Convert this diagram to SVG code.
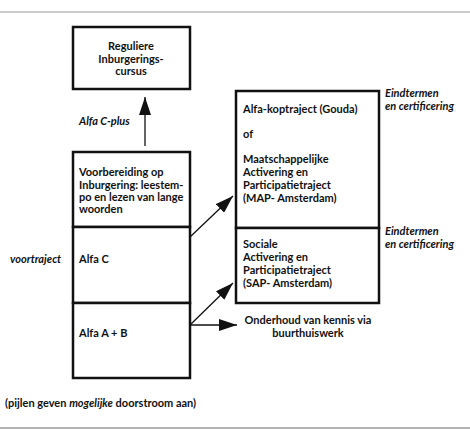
<svg xmlns="http://www.w3.org/2000/svg" width="470" height="439" viewBox="0 0 470 439">
<defs>
<style>
.box{fill:#fff;stroke:#111;stroke-width:2.5}
.t{font-family:Lato,"Open Sans",sans-serif;font-weight:700;font-size:11px;fill:#111}
.i{font-style:italic}
.c{text-anchor:middle}
.ln{stroke:#111;stroke-width:1.3;fill:none}
</style>
<marker id="ahL" viewBox="0 0 10 10" refX="10" refY="5" markerWidth="18" markerHeight="12" markerUnits="userSpaceOnUse" orient="auto" preserveAspectRatio="none">
<path d="M0,0 L10,5 L0,10 z" fill="#111"/>
</marker>
</defs>
<rect width="470" height="439" fill="#fff"/>
<line x1="0" y1="12" x2="470" y2="12" stroke="#999" stroke-width="1"/>
<line x1="0" y1="428" x2="470" y2="428" stroke="#666" stroke-width="1"/>

<g id="regulier">
<rect class="box" x="73" y="27" width="117" height="62"/>
<text class="t c" x="131" y="50">Reguliere</text>
<text class="t c" x="131" y="63">Inburgerings-</text>
<text class="t c" x="131" y="75">cursus</text>
</g>

<g id="voorbereiding">
<rect class="box" x="73" y="152" width="117" height="75"/>
<text class="t" x="79" y="176">Voorbereiding op</text>
<text class="t" x="79" y="189">Inburgering: leestem-</text>
<text class="t" x="79" y="201">po en lezen van lange</text>
<text class="t" x="79" y="213">woorden</text>
</g>
<g id="alfaC">
<rect class="box" x="73" y="227" width="117" height="76"/>
<text class="t" x="79" y="263">Alfa C</text>
</g>
<g id="alfaAB">
<rect class="box" x="73" y="303" width="117" height="75"/>
<text class="t" x="79" y="337">Alfa A + B</text>
</g>

<g id="koptraject">
<rect class="box" x="236" y="91" width="143" height="137"/>
<text class="t" x="243" y="113">Alfa-koptraject (Gouda)</text>
<text class="t" x="243" y="138">of</text>
<text class="t" x="243" y="163">Maatschappelijke</text>
<text class="t" x="243" y="176">Activering en</text>
<text class="t" x="243" y="189">Participatietraject</text>
<text class="t" x="243" y="202">(MAP- Amsterdam)</text>
</g>
<g id="sap">
<rect class="box" x="236" y="228" width="143" height="75"/>
<text class="t" x="243" y="248">Sociale</text>
<text class="t" x="243" y="261">Activering en</text>
<text class="t" x="243" y="274">Participatietraject</text>
<text class="t" x="243" y="287">(SAP- Amsterdam)</text>
</g>

<g id="labels">
<text class="t i" x="79" y="125">Alfa C-plus</text>
<text class="t i" x="10" y="263">voortraject</text>
<text class="t i" x="385" y="97">Eindtermen</text>
<text class="t i" x="385" y="110">en certificering</text>
<text class="t i" x="385" y="235">Eindtermen</text>
<text class="t i" x="385" y="248">en certificering</text>
<text class="t c" x="308" y="324">Onderhoud van kennis via</text>
<text class="t c" x="308" y="337">buurthuiswerk</text>
<text class="t" x="5" y="407">(pijlen geven <tspan class="i">mogelijke</tspan> doorstroom aan)</text>
</g>

<g id="connectors">
<line class="ln" x1="145" y1="146" x2="145" y2="97" marker-end="url(#ahL)"/>
<line class="ln" x1="190" y1="237" x2="233" y2="196" marker-end="url(#ahL)"/>
<line class="ln" x1="190" y1="325" x2="233" y2="283" marker-end="url(#ahL)"/>
<line class="ln" x1="190" y1="325" x2="237" y2="325" marker-end="url(#ahL)"/>
</g>
</svg>
